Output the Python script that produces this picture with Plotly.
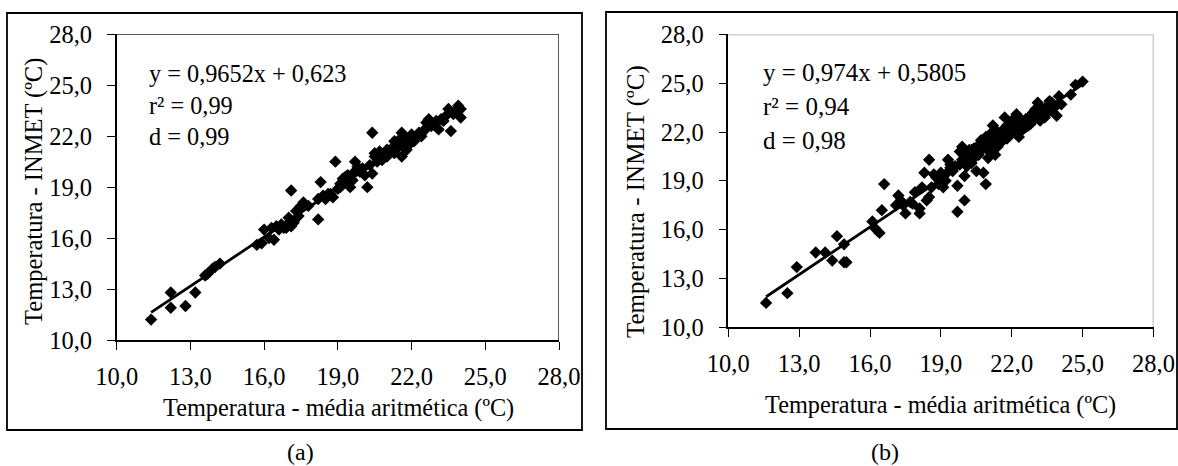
import plotly.graph_objects as go

W, H = 1178, 466

# Panel (a): daily temperature, arithmetic mean vs INMET
xa = [11.4, 12.2, 12.2, 12.8, 13.2, 13.6, 13.7, 13.9, 14.0, 14.2,
      15.7, 15.9, 16.0, 16.2, 16.3, 16.4, 16.5, 16.7, 16.9, 17.0,
      17.1, 17.1, 17.2, 17.3, 17.4, 17.5, 17.6, 17.8, 18.2, 18.3,
      18.2, 18.4, 18.6, 18.8, 18.9, 19.0, 19.1, 19.2, 19.3, 19.4,
      19.5, 19.6, 19.7, 19.8, 19.9, 20.0, 20.1, 20.2, 20.3, 20.4,
      20.4, 20.5, 20.5, 20.6, 20.7, 20.8, 20.9, 21.0, 21.1, 21.2,
      21.3, 21.4, 21.5, 21.6, 21.6, 21.7, 21.8, 21.9, 22.0, 22.1,
      22.3, 22.4, 22.5, 22.6, 22.7, 22.8, 22.9, 23.0, 23.1, 23.2,
      23.4, 23.5, 23.6, 23.7, 23.8, 23.9, 24.0, 24.0,
      16.6, 16.8, 17.2, 17.0, 18.5, 18.7, 19.1, 19.3, 19.6, 19.9,
      20.6, 20.8, 21.0, 21.3, 21.5, 21.8, 22.2, 22.6, 23.3]
ya = [11.2, 12.8, 11.9, 12.0, 12.8, 13.8, 13.9, 14.2, 14.3, 14.5,
      15.6, 15.7, 16.5, 16.0, 16.6, 15.9, 16.7, 16.8, 16.6, 16.9,
      18.8, 16.7, 17.0, 17.6, 17.3, 17.9, 18.1, 17.9, 17.1, 19.3,
      18.3, 18.5, 18.6, 18.4, 20.5, 18.9, 19.2, 19.5, 19.3, 19.7,
      19.0, 19.8, 20.5, 20.2, 19.9, 20.1, 19.7, 19.0, 20.3, 19.8,
      22.2, 20.8, 21.0, 20.5, 21.1, 20.9, 21.0, 20.8, 21.1, 21.3,
      21.7, 21.6, 21.4, 22.2, 20.8, 21.9, 21.2, 21.5, 22.1, 21.7,
      22.2, 22.0, 22.3, 22.8, 23.0, 22.6, 22.7, 22.9, 22.4, 23.0,
      23.2, 23.6, 22.3, 23.3, 23.5, 23.8, 23.6, 23.1,
      16.5, 16.6, 16.9, 17.2, 18.3, 18.6, 19.0, 19.6, 19.4, 20.0,
      20.9, 20.6, 21.2, 21.0, 21.8, 21.9, 22.0, 22.5, 22.9]
slope_a, icpt_a = 0.9652, 0.623
r2_a, d_a = "0,99", "0,99"

# Panel (b)
xb = [11.6, 12.5, 12.9, 13.7, 14.1, 14.4, 14.6, 14.9, 14.9, 15.0,
      16.1, 16.2, 16.4, 16.5, 16.6, 17.1, 17.2, 17.3, 17.4, 17.5,
      17.7, 17.8, 17.9, 18.1, 18.1, 18.2, 18.3, 18.4, 18.5, 18.5,
      18.6, 18.7, 18.8, 19.0, 19.1, 19.2, 19.3, 19.4, 19.5, 19.6,
      19.7, 19.7, 19.8, 19.8, 19.9, 20.0, 20.0, 20.1, 20.2, 20.3,
      20.4, 20.5, 20.5, 20.6, 20.7, 20.8, 20.8, 20.9, 20.9, 21.0,
      21.0, 21.1, 21.2, 21.2, 21.3, 21.4, 21.5, 21.6, 21.7, 21.8,
      21.9, 22.0, 22.1, 22.2, 22.3, 22.4, 22.5, 22.6, 22.7, 22.8,
      22.9, 23.0, 23.1, 23.2, 23.3, 23.4, 23.5, 23.6, 23.7, 23.8,
      23.9, 24.0, 24.1, 24.5, 24.7, 25.0,
      20.1, 20.3, 20.6, 20.7, 20.9, 21.0, 21.1, 21.2, 21.3, 21.4,
      21.5, 21.6, 21.7, 21.8, 21.9, 22.0, 22.1, 22.3, 22.4, 22.6,
      22.8, 23.0, 23.2, 23.4, 23.6, 19.4, 19.2, 19.0, 18.9, 20.2,
      20.4, 20.0, 19.9]
yb = [11.5, 12.1, 13.7, 14.6, 14.6, 14.1, 15.6, 15.1, 14.0, 14.0,
      16.5, 16.1, 15.8, 17.2, 18.8, 17.5, 18.1, 17.8, 17.5, 17.0,
      17.7, 17.6, 18.3, 17.0, 17.3, 18.6, 19.5, 17.8, 20.3, 18.0,
      18.6, 19.4, 19.2, 18.9, 18.6, 19.4, 20.3, 19.8, 19.6, 19.9,
      18.7, 17.1, 20.8, 20.0, 21.1, 17.8, 19.3, 20.5, 20.2, 20.9,
      20.4, 19.6, 20.7, 21.2, 20.9, 19.5, 21.4, 18.8, 21.0, 20.4,
      21.6, 21.3, 20.8, 22.4, 21.5, 21.1, 21.8, 22.1, 22.9, 21.6,
      22.3, 21.9, 22.5, 23.1, 21.7, 22.6, 22.2, 22.8, 22.4, 23.0,
      23.2, 22.9, 23.8, 22.7, 23.4, 23.1, 23.6, 23.3, 23.8, 23.5,
      23.0, 24.2, 23.7, 24.3, 24.9, 25.1,
      19.9, 20.1, 20.6, 21.5, 21.7, 20.9, 21.9, 21.2, 20.6, 22.0,
      21.3, 21.5, 21.9, 22.4, 21.9, 22.7, 22.0, 22.9, 22.1, 22.3,
      22.5, 23.4, 23.5, 22.9, 23.9, 20.0, 19.0, 19.5, 18.8, 20.9,
      21.0, 20.6, 20.3]
slope_b, icpt_b = 0.974, 0.5805
r2_b, d_b = "0,94", "0,98"

tick_vals = [10, 13, 16, 19, 22, 25, 28]
x_title = "Temperatura - média aritmética (ºC)"
y_title = "Temperatura - INMET (ºC)"

FONT = "Liberation Serif, Times New Roman, serif"


def px_x(p):
    return p / W


def px_y(p):
    return 1 - p / H


def num(v):
    return f"{v}".replace(".", ",")


fig = go.Figure()

# full-page pixel axes used only to place free text (added first so it
# sits underneath the two panels)
fig.add_trace(go.Scatter(x=[None], y=[None], xaxis="x3", yaxis="y3",
                         showlegend=False, hoverinfo="skip"))

for xs, ys, m, c, xr, yr in [(xa, ya, slope_a, icpt_a, "x", "y"),
                             (xb, yb, slope_b, icpt_b, "x2", "y2")]:
    fig.add_trace(go.Scatter(
        x=xs, y=ys, mode="markers", xaxis=xr, yaxis=yr,
        marker=dict(symbol="diamond", size=9.5, color="black",
                    line=dict(width=0)),
        showlegend=False, cliponaxis=False))
    x0, x1 = min(xs), max(xs)
    fig.add_trace(go.Scatter(
        x=[x0, x1], y=[m * x0 + c, m * x1 + c], mode="lines",
        xaxis=xr, yaxis=yr, line=dict(color="black", width=2.8),
        showlegend=False))

axis_common = dict(range=[10, 28], tickmode="array", tickvals=tick_vals,
                   tickformat=".1f", ticks="outside", ticklen=8,
                   tickcolor="black", tickwidth=1.3, showline=True,
                   linecolor="black", linewidth=1.5, showgrid=False,
                   zeroline=False, automargin=False,
                   tickfont=dict(family=FONT, size=24.5, color="black"))

fig.update_layout(
    template="none",
    width=W, height=H, margin=dict(l=0, r=0, t=0, b=0, pad=0),
    paper_bgcolor="white", plot_bgcolor="rgba(0,0,0,0)", separators=",.",
    xaxis=dict(domain=[px_x(116.7), px_x(559)], anchor="y",
               ticklabelstandoff=6, **axis_common),
    yaxis=dict(domain=[px_y(340), px_y(34.3)], anchor="x",
               ticklabelstandoff=10, **axis_common),
    xaxis2=dict(domain=[px_x(728.3), px_x(1153.5)], anchor="y2",
                ticklabelstandoff=6, **axis_common),
    yaxis2=dict(domain=[px_y(327.3), px_y(34.4)], anchor="x2",
                ticklabelstandoff=10, **axis_common),
    xaxis3=dict(domain=[0, 1], range=[0, W], visible=False,
                fixedrange=True, anchor="y3", automargin=False),
    yaxis3=dict(domain=[0, 1], range=[H, 0], visible=False,
                fixedrange=True, anchor="x3", automargin=False),
)

shapes = []
# outer boxes of each panel
for (l, t, r, b) in [(7, 13, 582, 430), (606, 12, 1177, 429)]:
    shapes.append(dict(type="rect", xref="paper", yref="paper",
                       x0=px_x(l), x1=px_x(r), y0=px_y(b), y1=px_y(t),
                       line=dict(color="black", width=1.8)))
# plot frames: top/right edges
shapes.append(dict(type="line", xref="x", yref="y", x0=10, x1=28, y0=28,
                   y1=28, line=dict(color="#222222", width=1.5)))
shapes.append(dict(type="line", xref="x", yref="y", x0=28, x1=28, y0=10,
                   y1=28, line=dict(color="#222222", width=1.5)))
shapes.append(dict(type="line", xref="x2", yref="y2", x0=10, x1=28, y0=28,
                   y1=28, line=dict(color="#a0a0a0", width=1.5)))
shapes.append(dict(type="line", xref="x2", yref="y2", x0=28, x1=28, y0=10,
                   y1=28, line=dict(color="#a0a0a0", width=1.5)))
fig.update_layout(shapes=shapes)

ann = []


def text(x, y, s, size=24, angle=0, xanchor="left"):
    ann.append(dict(x=x, y=y, xref="x3", yref="y3",
                    text=s, showarrow=False, xanchor=xanchor,
                    yanchor="middle", textangle=angle,
                    font=dict(family=FONT, size=size, color="black")))


# regression statistics
text(147, 73, f"y = {num(slope_a)}x + {num(icpt_a)}", size=24.3)
text(147, 105, f"r² = {r2_a}", size=24.3)
text(147, 136, f"d = {d_a}", size=24.3)
text(761, 72, f"y = {num(slope_b)}x + {num(icpt_b)}", size=25)
text(761, 106, f"r² = {r2_b}", size=25)
text(761, 140, f"d = {d_b}", size=25)

# axis titles
text(338, 408, x_title, size=24.3, xanchor="center")
text(940, 405, x_title, size=24.3, xanchor="center")
text(34, 192, y_title, size=24.5, angle=-90, xanchor="center")
text(636, 202, y_title, size=25, angle=-90, xanchor="center")

# panel captions
text(300, 452, "(a)", size=24, xanchor="center")
text(885, 452, "(b)", size=24, xanchor="center")

fig.update_layout(annotations=ann)

fig.write_html("out.html")
